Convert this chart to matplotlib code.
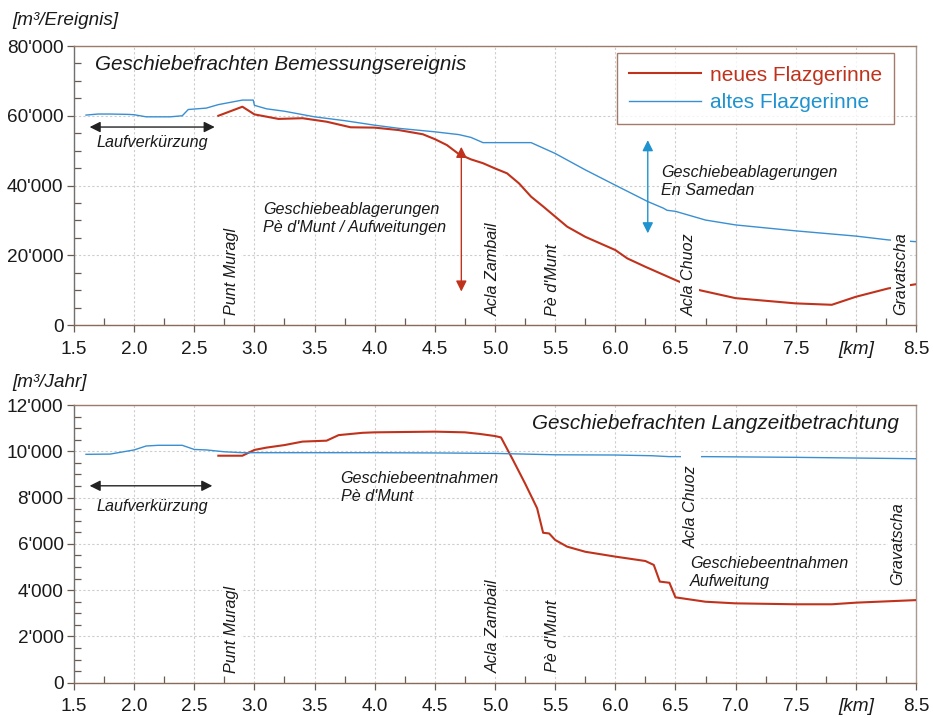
import matplotlib
matplotlib.use("Agg")
import matplotlib.pyplot as plt
from matplotlib.ticker import MultipleLocator, FuncFormatter, FixedLocator

plt.rcParams['font.family'] = ['Liberation Sans', 'DejaVu Sans']

# ---------------- data ----------------
# Top: Geschiebefrachten Bemessungsereignis [m3/Ereignis]
km_alt_top = [1.6, 1.7, 1.8, 1.95, 2.0, 2.1, 2.3, 2.4, 2.45, 2.6, 2.7, 2.9, 2.99, 3.0, 3.1,
              3.25, 3.5, 3.75, 4.0, 4.2, 4.5, 4.7, 4.8, 4.9, 5.3, 5.5, 5.75, 6.0, 6.27,
              6.4, 6.43, 6.5, 6.75, 7.0, 7.5, 8.0, 8.27, 8.5]
val_alt_top = [60200, 60500, 60500, 60400, 60300, 59700, 59700, 60000, 61800, 62200, 63200,
               64500, 64500, 63000, 62000, 61300, 59700, 58600, 57300, 56400, 55400, 54600,
               53800, 52300, 52300, 49200, 44500, 40100, 35400, 33500, 32900, 32600, 30100,
               28700, 27000, 25500, 24400, 23900]
km_neu_top = [2.7, 2.9, 3.0, 3.2, 3.4, 3.5, 3.6, 3.8, 4.0, 4.2, 4.4, 4.5, 4.6, 4.7, 4.8,
              4.9, 5.0, 5.1, 5.2, 5.3, 5.4, 5.5, 5.6, 5.75, 6.0, 6.1, 6.25, 6.5, 6.7, 7.0,
              7.5, 7.8, 8.0, 8.27, 8.5]
val_neu_top = [60000, 62600, 60400, 59100, 59300, 58800, 58300, 56700, 56600, 55900, 54700,
               53300, 51600, 49000, 47500, 46400, 44900, 43500, 40600, 36800, 34000, 31100,
               28200, 25300, 21500, 19100, 16700, 12900, 10000, 7700, 6200, 5800, 8100,
               10500, 11700]

# Bottom: Geschiebefrachten Langzeitbetrachtung [m3/Jahr]
km_alt_bot = [1.6, 1.8, 2.0, 2.1, 2.2, 2.4, 2.5, 2.6, 2.75, 2.9, 3.5, 4.0, 4.5, 5.0, 5.5,
              6.0, 6.3, 6.45, 6.75, 7.5, 8.0, 8.5]
val_alt_bot = [9870, 9880, 10060, 10230, 10260, 10260, 10080, 10060, 9980, 9940, 9940, 9940,
               9930, 9910, 9850, 9840, 9810, 9770, 9770, 9740, 9710, 9680]
km_neu_bot = [2.7, 2.9, 3.0, 3.1, 3.25, 3.4, 3.6, 3.7, 3.9, 4.0, 4.5, 4.75, 4.875, 5.0, 5.05,
              5.15, 5.25, 5.35, 5.4, 5.45, 5.5, 5.6, 5.75, 6.0, 6.25, 6.32, 6.37, 6.45,
              6.5, 6.75, 7.0, 7.5, 7.8, 8.0, 8.5]
val_neu_bot = [9810, 9810, 10060, 10160, 10270, 10420, 10460, 10700, 10800, 10820, 10850,
               10820, 10750, 10660, 10600, 9620, 8610, 7540, 6480, 6450, 6170, 5880, 5660,
               5450, 5260, 5090, 4370, 4320, 3690, 3500, 3430, 3390, 3390, 3460, 3570]

x_ticks = [1.5, 2.0, 2.5, 3.0, 3.5, 4.0, 4.5, 5.0, 5.5, 6.0, 6.5, 7.0, 7.5, 8.0, 8.5]
x_tick_labels = ["1.5", "2.0", "2.5", "3.0", "3.5", "4.0", "4.5", "5.0", "5.5", "6.0",
                 "6.5", "7.0", "7.5", "[km]", "8.5"]

series_labels = ["neues Flazgerinne", "altes Flazgerinne"]

# Places along the river (km) and label anchors
places = ["Punt Muragl", "Acla Zambail", "Pè d'Munt", "Acla Chuoz", "Gravatscha"]
places_km_top = [2.81, 4.985, 5.48, 6.615, 8.37]
places_val_top = [2900, 2600, 2600, 2600, 2900]
places_km_bot = [2.81, 4.985, 5.48, 6.63, 8.35]
places_val_bot = [400, 400, 480, 5820, 4220]

# ---------------- style ----------------
RED = '#c0321c'
BLUE = '#3a8fd2'
BLUE_TXT = '#1f93cf'
SPINE_BROWN = '#9c7b68'
GRID = '#cdcdcd'
TXT = '#1a1a1a'

fig = plt.figure(figsize=(9.33, 7.17), dpi=100)
ax1 = fig.add_axes([0.0793, 0.5467, 0.9025, 0.3891])
ax2 = fig.add_axes([0.0793, 0.0478, 0.9025, 0.3873])

def thousands(v, pos):
    return "{:,}".format(int(round(v))).replace(",", "'")

def style_axes(ax, ymax, ymajor, yminor):
    ax.set_xlim(1.5, 8.5)
    ax.set_ylim(0, ymax)
    ax.xaxis.set_major_locator(FixedLocator(x_ticks))
    ax.set_xticklabels(x_tick_labels)
    for lab in ax.get_xticklabels():
        if lab.get_text() == "[km]":
            lab.set_fontstyle('italic')
    ax.xaxis.set_minor_locator(MultipleLocator(0.25))
    ax.yaxis.set_major_locator(MultipleLocator(ymajor))
    ax.yaxis.set_minor_locator(MultipleLocator(yminor))
    ax.yaxis.set_major_formatter(FuncFormatter(thousands))
    ax.tick_params(which='major', direction='out', length=5, width=0.9,
                   color='#6a5a50', labelsize=13.7, labelcolor=TXT, pad=2.5)
    ax.tick_params(axis='x', which='major', pad=6.2)
    ax.tick_params(which='minor', direction='in', length=5, width=0.9, color='#6a5a50')
    ax.grid(True, which='major', color=GRID, linestyle=(0, (2, 2)), linewidth=0.8)
    ax.set_axisbelow(True)
    ax.spines['top'].set_color(SPINE_BROWN)
    ax.spines['right'].set_color('#a89a90')
    ax.spines['left'].set_color('#707070')
    ax.spines['bottom'].set_color('#8a6a58')
    for s in ax.spines.values():
        s.set_linewidth(1.0)

style_axes(ax1, 80000, 20000, 5000)
style_axes(ax2, 12000, 2000, 500)

box = dict(facecolor='white', edgecolor='none', pad=1.5)
ann_fs = 11.6
title_fs = 14.9

# ---------------- top chart ----------------
ax1.plot(km_neu_top, val_neu_top, color=RED, lw=1.5, zorder=3, label=series_labels[0])
ax1.plot(km_alt_top, val_alt_top, color=BLUE, lw=1.0, zorder=3, label=series_labels[1])

leg = ax1.legend(loc='upper right', bbox_to_anchor=(0.974, 0.975), fontsize=15,
                 frameon=True, fancybox=False, handlelength=3.45, handletextpad=0.4,
                 borderpad=0.6, labelspacing=0.4, borderaxespad=0)
leg.get_frame().set_edgecolor('#8b5a48')
leg.get_frame().set_linewidth(1.0)
leg.get_texts()[0].set_color(RED)
leg.get_texts()[1].set_color(BLUE_TXT)
leg.set_zorder(6)

ax1.text(1.675, 74800, "Geschiebefrachten Bemessungsereignis", fontsize=title_fs,
         style='italic', color=TXT, va='center', ha='left')

ax1.annotate("", xy=(1.63, 56770), xytext=(2.67, 56770),
             arrowprops=dict(arrowstyle='<|-|>', color='#222222', lw=1.0,
                             mutation_scale=16, shrinkA=0, shrinkB=0))
ax1.text(1.69, 52400, "Laufverkürzung", fontsize=ann_fs, style='italic', color=TXT,
         va='center', ha='left')

ax1.annotate("", xy=(4.72, 51100), xytext=(4.72, 9600),
             arrowprops=dict(arrowstyle='<|-|>', color=RED, lw=1.0,
                             mutation_scale=16, shrinkA=0, shrinkB=0))
ax1.annotate("", xy=(6.27, 53000), xytext=(6.27, 26300),
             arrowprops=dict(arrowstyle='<|-|>', color=BLUE_TXT, lw=1.0,
                             mutation_scale=16, shrinkA=0, shrinkB=0))

ax1.text(3.074, 30600, "Geschiebeablagerungen\nPè d'Munt / Aufweitungen", fontsize=ann_fs,
         style='italic', color=TXT, va='center', ha='left', linespacing=1.2)
ax1.text(6.38, 41100, "Geschiebeablagerungen\nEn Samedan", fontsize=ann_fs,
         style='italic', color=TXT, va='center', ha='left', linespacing=1.2)

for name, xk, yv in zip(places, places_km_top, places_val_top):
    ax1.text(xk, yv, name, rotation=90, fontsize=ann_fs, style='italic', color=TXT,
             ha='center', va='bottom', bbox=box, zorder=5)

# ---------------- bottom chart ----------------
ax2.plot(km_neu_bot, val_neu_bot, color=RED, lw=1.5, zorder=3)
ax2.plot(km_alt_bot, val_alt_bot, color=BLUE, lw=1.0, zorder=3)

ax2.text(8.36, 11220, "Geschiebefrachten Langzeitbetrachtung", fontsize=title_fs,
         style='italic', color=TXT, va='center', ha='right')

ax2.annotate("", xy=(1.63, 8510), xytext=(2.65, 8510),
             arrowprops=dict(arrowstyle='<|-|>', color='#222222', lw=1.0,
                             mutation_scale=16, shrinkA=0, shrinkB=0))
ax2.text(1.69, 7600, "Laufverkürzung", fontsize=ann_fs, style='italic', color=TXT,
         va='center', ha='left')

ax2.text(3.716, 8430, "Geschiebeentnahmen\nPè d'Munt", fontsize=ann_fs,
         style='italic', color=TXT, va='center', ha='left', linespacing=1.2)
ax2.text(6.62, 4760, "Geschiebeentnahmen\nAufweitung", fontsize=ann_fs,
         style='italic', color=TXT, va='center', ha='left', linespacing=1.2)

for name, xk, yv in zip(places, places_km_bot, places_val_bot):
    label = name + "   " if name == "Acla Chuoz" else name
    ax2.text(xk, yv, label, rotation=90, fontsize=ann_fs, style='italic', color=TXT,
             ha='center', va='bottom', bbox=box, zorder=5)

# unit labels
fig.text(0.013, 0.972, "[m³/Ereignis]", fontsize=13.6, style='italic', color=TXT,
         ha='left', va='center')
fig.text(0.013, 0.467, "[m³/Jahr]", fontsize=13.6, style='italic', color=TXT,
         ha='left', va='center')

fig.savefig("out.png", dpi=100)
